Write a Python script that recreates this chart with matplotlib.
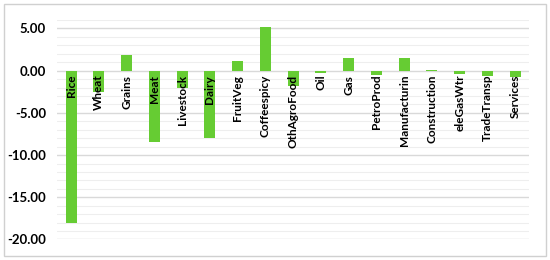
import matplotlib.pyplot as plt
from matplotlib.ticker import MultipleLocator, FormatStrFormatter
from matplotlib.patches import Rectangle

sectors = ["Rice", "Wheat", "Grains", "Meat", "Livestock", "Dairy", "FruitVeg",
           "Coffeespicy", "OthAgroFood", "Oil", "Gas", "PetroProd", "Manufacturin",
           "Construction", "eleGasWtr", "TradeTransp", "Services"]
changes = [-18.0, -2.5, 1.8, -8.4, -2.0, -8.0, 1.1,
           5.2, -1.8, -0.25, 1.55, -0.55, 1.5,
           0.05, -0.35, -0.65, -0.75]

plt.rcParams['font.family'] = ['Lato', 'DejaVu Sans']

fig = plt.figure(figsize=(5.5, 2.6), dpi=100)
ax = fig.add_axes([0.104, 0.079, 0.858, 0.844])

x = range(len(sectors))
ax.bar(x, changes, width=0.4, color='#66cc33', zorder=3)

# category labels sit just under the zero line, inside the plot
for i, name in enumerate(sectors):
    ax.annotate(name, (i, 0), xytext=(0, -3), textcoords='offset points',
                rotation=90, ha='center', va='top', fontsize=8.5,
                fontweight='bold', color='black', zorder=4)

ax.set_xlim(-0.5, len(sectors) - 0.5)
ax.set_ylim(-20, 6)
ax.yaxis.set_major_locator(MultipleLocator(5))
ax.yaxis.set_minor_locator(MultipleLocator(1))
ax.yaxis.set_major_formatter(FormatStrFormatter('%.2f'))
ax.grid(True, which='major', axis='y', color='#d9d9d9', linewidth=1.0, zorder=0)
ax.grid(True, which='minor', axis='y', color='#eeeeee', linewidth=0.8, zorder=0)
ax.set_xticks([])
ax.tick_params(axis='y', which='both', length=0, labelsize=9.5, pad=8)
for lbl in ax.get_yticklabels():
    lbl.set_fontweight('bold')
for s in ax.spines.values():
    s.set_visible(False)

fig.patches.append(Rectangle((0.008, 0.015), 0.984, 0.97, transform=fig.transFigure,
                             fill=False, edgecolor='#d0d0d0', linewidth=1.0))

fig.savefig('out.png', dpi=100)
